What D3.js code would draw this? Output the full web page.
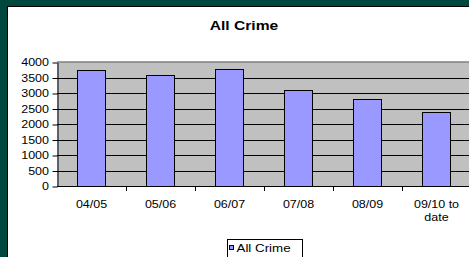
<!DOCTYPE html>
<html>
<head>
<meta charset="utf-8">
<script src="https://cdn.jsdelivr.net/npm/d3@7"></script>
<style>
  html, body { margin: 0; padding: 0; background: #00473e; overflow: hidden; }
  svg { display: block; font-family: 'Liberation Sans', Arial, sans-serif; }
</style>
</head>
<body>
<svg id="svg" width="469" height="257"></svg>
<script>
const categories = ['04/05', '05/06', '06/07', '07/08', '08/09', '09/10 to\ndate']
const crimeCounts = [3730, 3580, 3760, 3090, 2800, 2400]
const yTicks = [0, 500, 1000, 1500, 2000, 2500, 3000, 3500, 4000]
const seriesName = 'All Crime'
const chartTitle = 'All Crime'

// the reference picture is stretched sideways, so text gets the same stretch
const sx = 1.25

const plot = { left: 57, right: 471, top: 62, bottom: 186 }

const svg = d3.select('#svg')

// dark frame + white chart area
svg.append('rect')
  .attr('width', 469).attr('height', 257)
  .attr('fill', '#00473e')
svg.append('rect')
  .attr('x', 7.5).attr('y', 6.5)
  .attr('width', 470).attr('height', 260)
  .attr('fill', '#ffffff')
  .attr('stroke', '#000000')

const xScale = d3.scaleBand()
  .domain(categories)
  .range([plot.left, plot.right])
  .padding(0)

const barScale = d3.scaleBand()
  .domain(categories)
  .range([plot.left, plot.right])
  .paddingInner(0.59)
  .paddingOuter(0.295)

const yScale = d3.scaleLinear()
  .domain([0, 4000])
  .range([plot.bottom, plot.top])

// plot background
svg.append('rect')
  .attr('x', plot.left).attr('y', plot.top)
  .attr('width', plot.right - plot.left)
  .attr('height', plot.bottom - plot.top)
  .attr('fill', '#c0c0c0')

// gridlines
svg.append('g')
  .selectAll('line')
  .data(yTicks.filter(d => d > 0 && d < 4000))
  .enter()
  .append('line')
  .attr('x1', plot.left).attr('x2', plot.right)
  .attr('y1', d => Math.round(yScale(d)) + 0.5)
  .attr('y2', d => Math.round(yScale(d)) + 0.5)
  .attr('stroke', '#000000')

// top border of plot
svg.append('line')
  .attr('x1', plot.left).attr('x2', plot.right)
  .attr('y1', plot.top).attr('y2', plot.top)
  .attr('stroke', '#808080')
  .attr('stroke-width', 1.5)

// bars
svg.append('g')
  .selectAll('rect')
  .data(crimeCounts)
  .enter()
  .append('rect')
  .attr('x', (d, i) => Math.round(barScale(categories[i])) + 0.5)
  .attr('y', d => Math.round(yScale(d)) + 0.5)
  .attr('width', Math.round(barScale.bandwidth()))
  .attr('height', d => plot.bottom - Math.round(yScale(d)))
  .attr('fill', '#9999ff')
  .attr('stroke', '#000000')

// left axis
const leftAxis = d3.axisLeft(yScale)
  .tickValues(yTicks)
  .tickFormat(d3.format('d'))
  .tickSize(5)
  .tickSizeOuter(0)
  .tickPadding(3.5)

const yAxisG = svg.append('g')
  .attr('transform', `translate(${plot.left + 0.5}, 0.5)`)
  .call(leftAxis)
yAxisG.select('.domain').attr('stroke', '#000000')
yAxisG.selectAll('.tick line').attr('stroke', '#000000')
yAxisG.selectAll('.tick text')
  .attr('x', -8.5 / sx)
  .attr('transform', `scale(${sx},1)`)
  .attr('font-size', 10)
  .attr('font-family', "'Liberation Sans', Arial, sans-serif")
  .attr('fill', '#000000')

// bottom axis line and tick marks at the category boundaries
const xAxisG = svg.append('g')
xAxisG.append('line')
  .attr('x1', plot.left).attr('x2', plot.right)
  .attr('y1', plot.bottom + 0.5).attr('y2', plot.bottom + 0.5)
  .attr('stroke', '#000000')
xAxisG.selectAll('line.tick')
  .data(categories.slice(1))
  .enter()
  .append('line')
  .attr('class', 'tick')
  .attr('x1', d => Math.round(xScale(d)) + 0.5)
  .attr('x2', d => Math.round(xScale(d)) + 0.5)
  .attr('y1', plot.bottom)
  .attr('y2', plot.bottom + 5)
  .attr('stroke', '#000000')

const labels = xAxisG.selectAll('g.label')
  .data(categories)
  .enter()
  .append('g')
  .attr('class', 'label')
  .attr('transform', d => `translate(${xScale(d) + xScale.bandwidth() / 2}, 208) scale(${sx},1)`)

labels.selectAll('text')
  .data(d => d.split('\n'))
  .enter()
  .append('text')
  .attr('y', (d, i) => i * 12.7)
  .attr('text-anchor', 'middle')
  .attr('font-size', 10)
  .attr('fill', '#000000')
  .text(d => d)

// title
svg.append('text')
  .attr('transform', `translate(244, 30) scale(${sx},1)`)
  .attr('text-anchor', 'middle')
  .attr('font-size', 12.5)
  .attr('font-weight', 'bold')
  .attr('fill', '#000000')
  .text(chartTitle)

// legend
const legend = svg.append('g')
legend.append('rect')
  .attr('x', 227.5).attr('y', 239.5)
  .attr('width', 75).attr('height', 24)
  .attr('fill', '#ffffff')
  .attr('stroke', '#000000')
legend.append('rect')
  .attr('x', 229.5).attr('y', 245.5)
  .attr('width', 4).attr('height', 4)
  .attr('fill', '#9999ff')
  .attr('stroke', '#000000')
legend.append('text')
  .attr('transform', `translate(236.5, 251.5) scale(${sx * 0.97},1)`)
  .attr('font-size', 11)
  .attr('fill', '#000000')
  .text(seriesName)
</script>
</body>
</html>
